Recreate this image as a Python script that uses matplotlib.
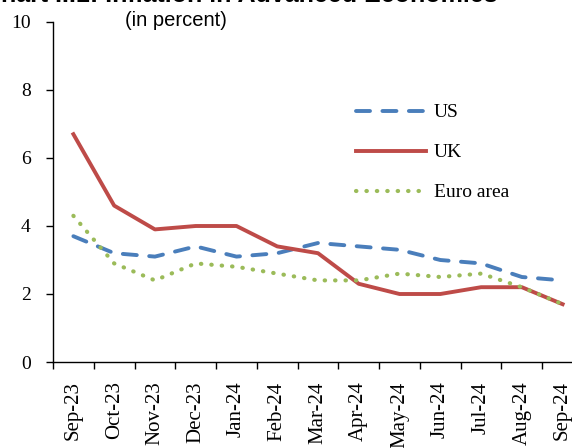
import matplotlib
matplotlib.use('Agg')
import matplotlib.pyplot as plt
import numpy as np

# CPI inflation, y-o-y (%)
months = ['Sep-23', 'Oct-23', 'Nov-23', 'Dec-23', 'Jan-24', 'Feb-24', 'Mar-24',
          'Apr-24', 'May-24', 'Jun-24', 'Jul-24', 'Aug-24', 'Sep-24']
us = [3.7, 3.2, 3.1, 3.4, 3.1, 3.2, 3.5, 3.4, 3.3, 3.0, 2.9, 2.5, 2.4]
uk = [6.7, 4.6, 3.9, 4.0, 4.0, 3.4, 3.2, 2.3, 2.0, 2.0, 2.2, 2.2, 1.7]
euro = [4.3, 2.9, 2.4, 2.9, 2.8, 2.6, 2.4, 2.4, 2.6, 2.5, 2.6, 2.2, 1.7]

W, H = 572, 448
fig = plt.figure(figsize=(W / 100, H / 100), dpi=100)
# axis runs past the right edge, like the cropped original
ax = fig.add_axes([53 / W, (H - 362) / H, 530 / W, 340 / H])

x = np.arange(len(months))
ax.plot(x, us, color='#4A7EBB', lw=2.8, dashes=(3.6, 3.2), dash_capstyle='round', label='US')
ax.plot(x, uk, color='#BE4B48', lw=2.8, label='UK')
ax.plot(x, euro, color='#9BBB59', lw=3.0, dashes=(0.1, 2.4), dash_capstyle='round', label='Euro area')

ax.set_xlim(-0.5, len(months) - 0.5)
ax.set_ylim(0, 10)
ax.set_yticks(range(0, 11, 2))

ax.set_xticks(np.arange(-0.5, len(months), 1))
ax.set_xticklabels([])
ax.set_xticks(x, minor=True)
ax.set_xticklabels(months, minor=True, rotation=90)

for s in ['top', 'right']:
    ax.spines[s].set_visible(False)
for s in ['left', 'bottom']:
    ax.spines[s].set_linewidth(1.0)

serif = 'Liberation Serif'
ax.tick_params(axis='y', length=5, width=1, pad=11, labelsize=14)
ax.tick_params(axis='x', which='major', length=5, width=1)
ax.tick_params(axis='x', which='minor', length=0, pad=14, labelsize=15)
for lab in ax.get_yticklabels() + ax.get_xticklabels(minor=True):
    lab.set_fontfamily(serif)

leg = ax.legend(loc='upper left', bbox_to_anchor=(295 / 530, 1 - 74 / 340), frameon=False,
                prop={'family': serif, 'size': 14}, handlelength=3.6, handletextpad=0.4,
                labelspacing=1.15, borderaxespad=0)

fig.text(498 / W, 1 - 1.5 / H, 'Chart II.1: Inflation in Advanced Economies', ha='right',
         va='baseline', fontsize=18, fontweight='bold', family='Liberation Sans')
fig.text(125 / W, 1 - 20 / H, '(in percent)', ha='left', va='center',
         fontsize=14.5, family='Liberation Sans')

fig.savefig('out.png', dpi=100)
